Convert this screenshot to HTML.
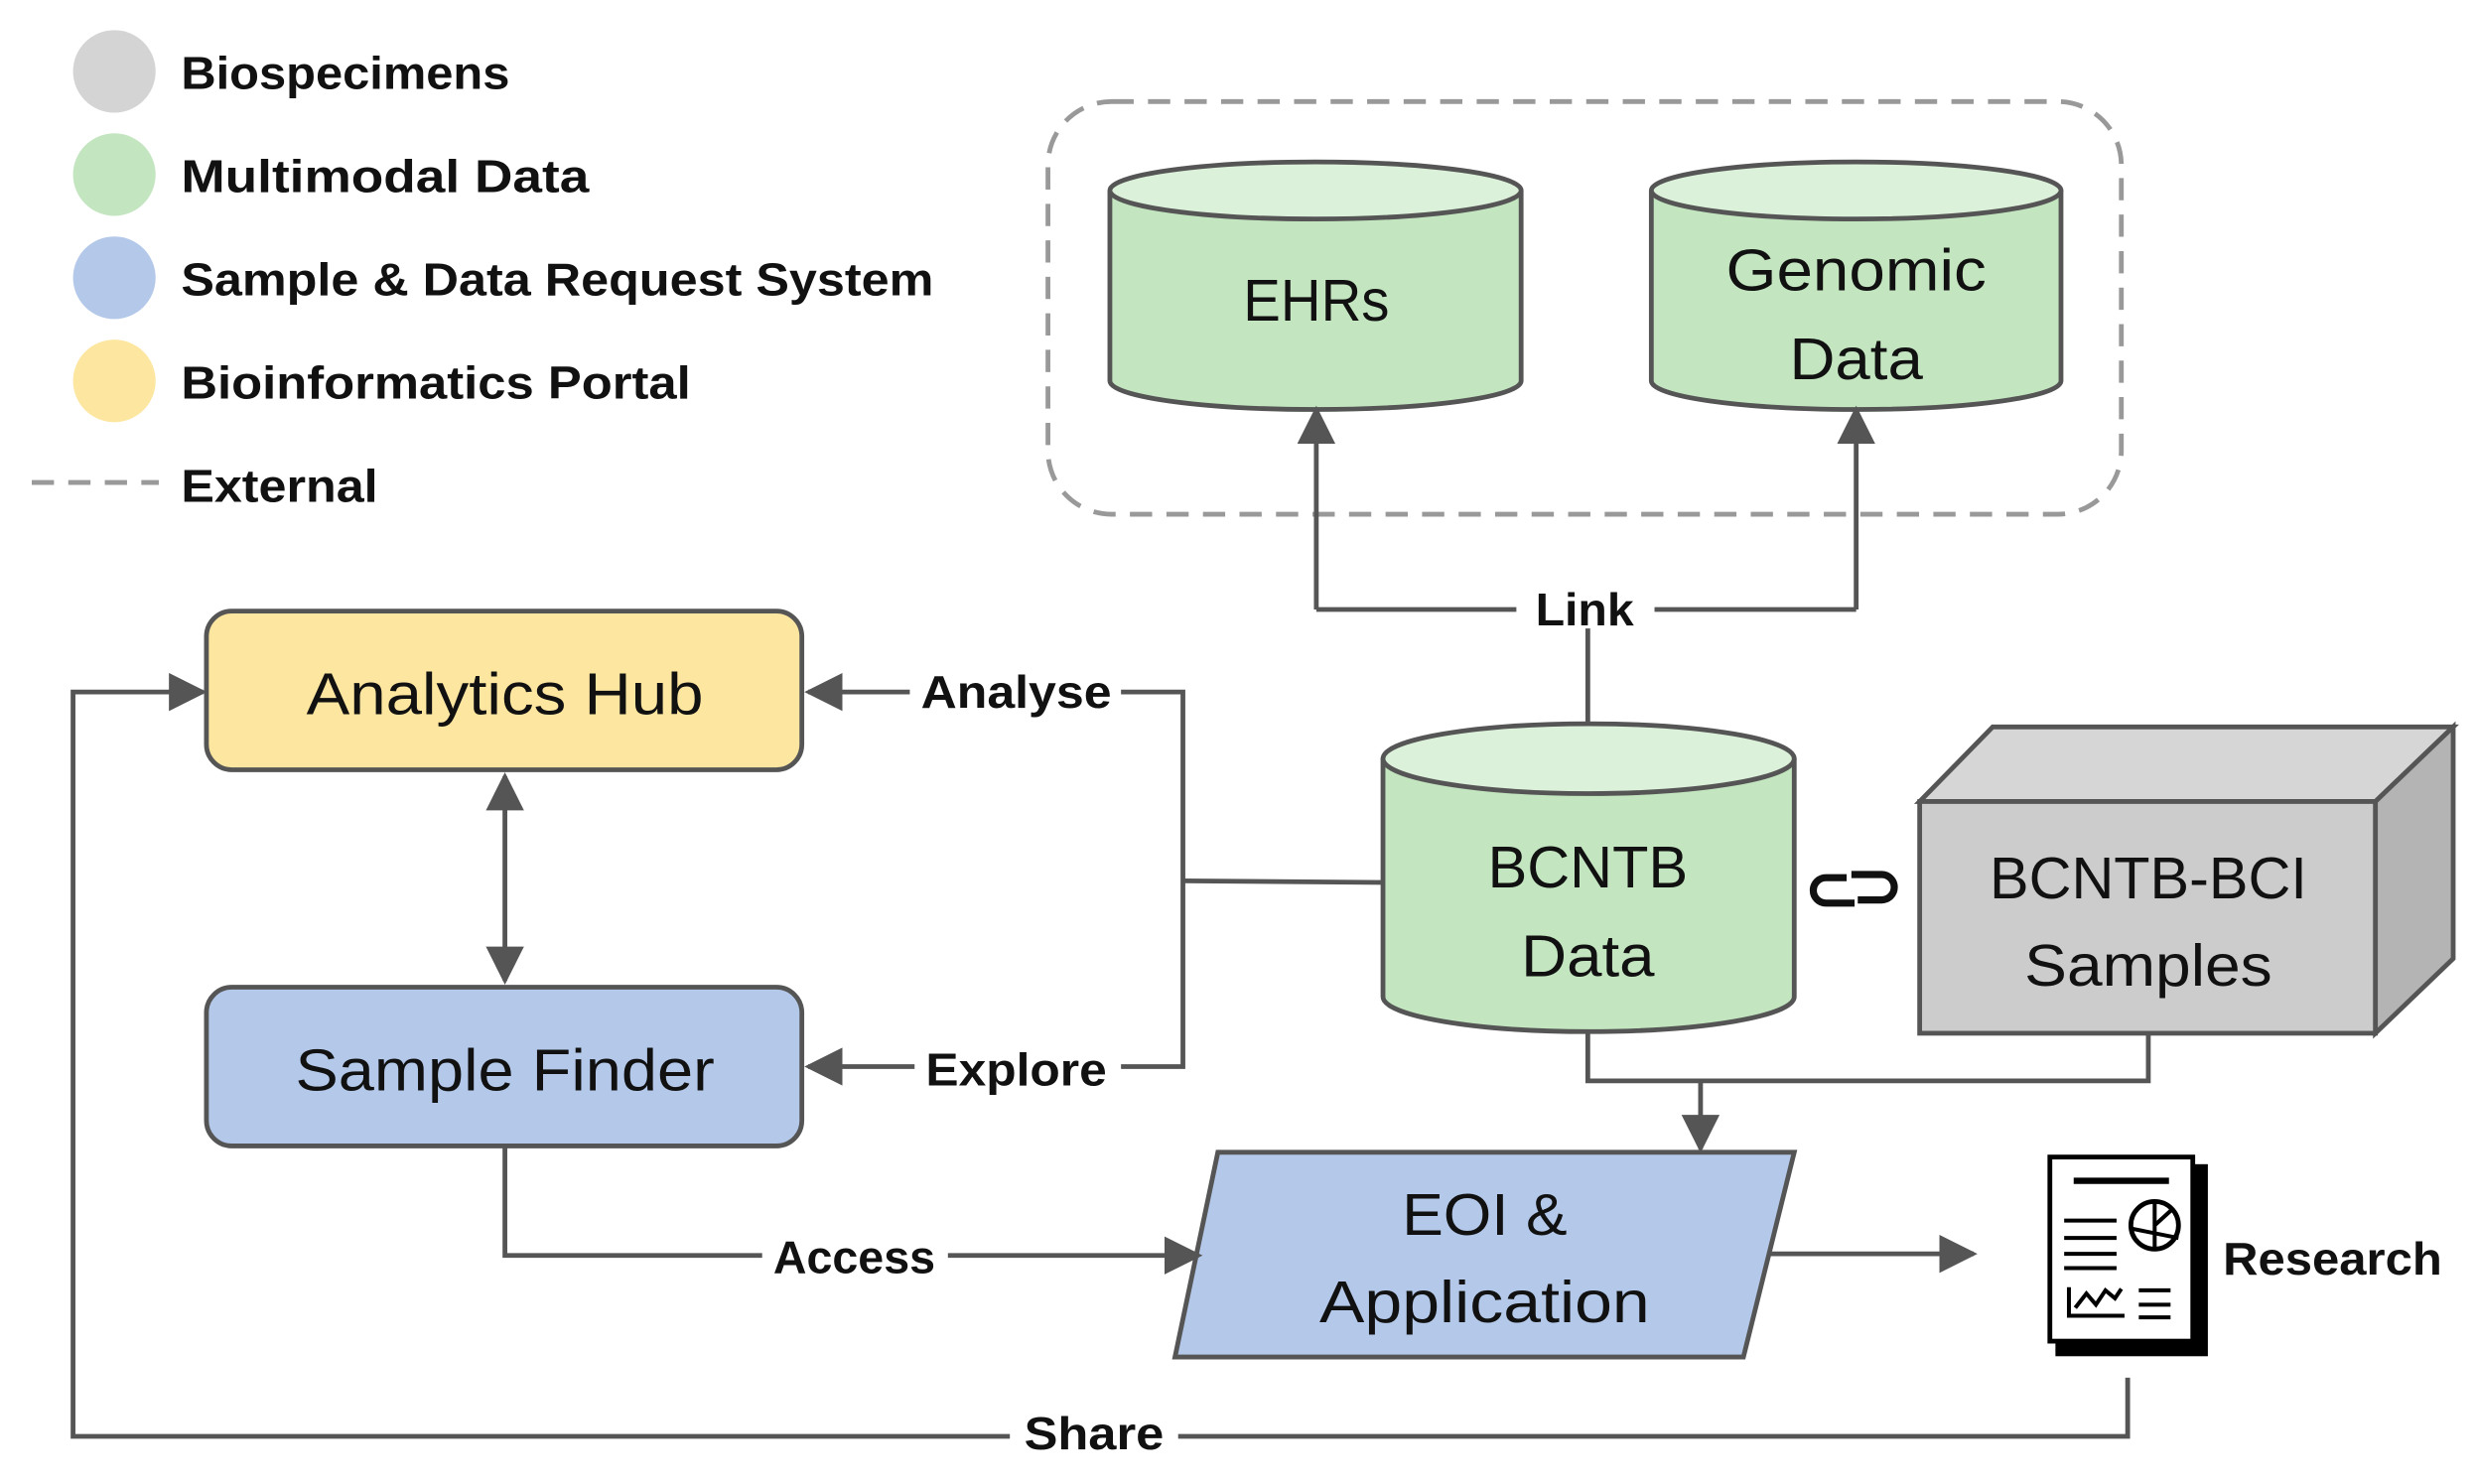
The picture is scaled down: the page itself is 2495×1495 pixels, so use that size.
<!DOCTYPE html>
<html><head><meta charset="utf-8"><style>
html,body{margin:0;padding:0;background:#fff;width:2495px;height:1495px;overflow:hidden}
svg{display:block}
text{font-family:"Liberation Sans",sans-serif;fill:#111}
.b{font-weight:bold;font-size:29px}
.n{font-size:37px;text-anchor:middle}
</style></head><body>
<svg width="2495" height="1495" viewBox="0 0 1560 935" preserveAspectRatio="none">
<defs>
<marker id="ar" viewBox="0 0 10 10" refX="9" refY="5" markerWidth="24" markerHeight="24" orient="auto-start-reverse" markerUnits="userSpaceOnUse"><path d="M0,0 L10,5 L0,10z" fill="#555"/></marker></defs>
<!-- legend -->
<circle cx="72" cy="45" r="26" fill="#d4d4d4"/>
<circle cx="72" cy="110" r="26" fill="#c3e6c0"/>
<circle cx="72" cy="175" r="26" fill="#b4c9ea"/>
<circle cx="72" cy="240" r="26" fill="#fde6a0"/>
<line x1="20" y1="304" x2="100" y2="304" stroke="#999" stroke-width="3" stroke-dasharray="14,9"/>
<text class="b" x="114" y="56" textLength="207" lengthAdjust="spacingAndGlyphs">Biospecimens</text>
<text class="b" x="114" y="121" textLength="257" lengthAdjust="spacingAndGlyphs">Multimodal Data</text>
<text class="b" x="114" y="186" textLength="474" lengthAdjust="spacingAndGlyphs">Sample &amp; Data Request System</text>
<text class="b" x="114" y="251" textLength="321" lengthAdjust="spacingAndGlyphs">Bioinformatics Portal</text>
<text class="b" x="114" y="316" textLength="124" lengthAdjust="spacingAndGlyphs">External</text>
<!-- external box -->
<rect x="660" y="64" width="676" height="260" rx="40" fill="none" stroke="#999" stroke-width="3" stroke-dasharray="14,9"/>
<g stroke="#555" stroke-width="3">
<path d="M699,120 V240 A129.5,18 0 0 0 958,240 V120" fill="#c3e6c0"/>
<ellipse cx="828.5" cy="120" rx="129.5" ry="18" fill="#dcf1da"/>
<path d="M1040,120 V240 A129,18 0 0 0 1298,240 V120" fill="#c3e6c0"/>
<ellipse cx="1169" cy="120" rx="129" ry="18" fill="#dcf1da"/>
<path d="M871,478 V628 A129.5,22 0 0 0 1130,628 V478" fill="#c3e6c0"/>
<ellipse cx="1000.5" cy="478" rx="129.5" ry="22" fill="#dcf1da"/>
<path d="M1209,505 L1255,458 L1545,458 L1496,505 Z" fill="#d6d6d6"/>
<path d="M1496,505 L1545,458 L1545,604 L1496,651 Z" fill="#b4b4b4"/>
<rect x="1209" y="505" width="287" height="146" fill="#cccccc"/>
</g>
<text class="n" x="829" y="202" textLength="92" lengthAdjust="spacingAndGlyphs">EHRs</text>
<text class="n" x="1169" y="183" textLength="164" lengthAdjust="spacingAndGlyphs">Genomic</text>
<text class="n" x="1169" y="239" textLength="84" lengthAdjust="spacingAndGlyphs">Data</text>
<text class="n" x="1000" y="559" textLength="126" lengthAdjust="spacingAndGlyphs">BCNTB</text>
<text class="n" x="1000" y="615" textLength="84" lengthAdjust="spacingAndGlyphs">Data</text>
<text class="n" x="1353" y="566" textLength="200" lengthAdjust="spacingAndGlyphs">BCNTB-BCI</text>
<text class="n" x="1353" y="621" textLength="156" lengthAdjust="spacingAndGlyphs">Samples</text>
<!-- link icon -->
<g fill="none" stroke="#111" stroke-width="4.5">
<path d="M1163,553 H1150 A8,8 0 0 0 1150,569 H1168"/>
<path d="M1170,567 H1185 A8,8 0 0 0 1185,551 H1166"/>
</g>
<rect x="130" y="385" width="375" height="100" rx="16" fill="#fde6a0" stroke="#555" stroke-width="3"/>
<text class="n" x="318" y="450" textLength="250" lengthAdjust="spacingAndGlyphs">Analytics Hub</text>
<rect x="130" y="622" width="375" height="100" rx="16" fill="#b4c9ea" stroke="#555" stroke-width="3"/>
<text class="n" x="318" y="687" textLength="264" lengthAdjust="spacingAndGlyphs">Sample Finder</text>
<path d="M767,726 L1130,726 L1098,855 L740,855 Z" fill="#b4c9ea" stroke="#555" stroke-width="3"/>
<text class="n" x="935" y="778" textLength="104" lengthAdjust="spacingAndGlyphs">EOI &amp;</text>
<text class="n" x="935" y="833" textLength="208" lengthAdjust="spacingAndGlyphs">Application</text>
<g stroke="#555" stroke-width="3" fill="none">
<path d="M829,384 V258" marker-end="url(#ar)"/>
<path d="M1169,384 V258" marker-end="url(#ar)"/>
<path d="M829,384 H955 M1042,384 H1169"/>
<path d="M1000,396 V456"/>
<path d="M318,489 V618" marker-start="url(#ar)" marker-end="url(#ar)"/>
<path d="M573,436 H509" marker-end="url(#ar)"/>
<path d="M706,436 H745 V672 H706"/>
<path d="M576,672 H509" marker-end="url(#ar)"/>
<path d="M745,555 L871,556"/>
<path d="M1000,650 V681 H1353 V651"/>
<path d="M1071,681 V724" marker-end="url(#ar)"/>
<path d="M318,722 V791 H480"/>
<path d="M597,791 H755" marker-end="url(#ar)"/>
<path d="M1115,790 H1243" marker-end="url(#ar)"/>
<path d="M1340,868 V905 H742 M636,905 H46 V436 H128" marker-end="url(#ar)"/>
</g>
<text class="b" x="998" y="394" text-anchor="middle" textLength="62" lengthAdjust="spacingAndGlyphs">Link</text>
<text class="b" x="640" y="446" text-anchor="middle" textLength="120" lengthAdjust="spacingAndGlyphs">Analyse</text>
<text class="b" x="640" y="684" text-anchor="middle" textLength="114" lengthAdjust="spacingAndGlyphs">Explore</text>
<text class="b" x="538" y="802" text-anchor="middle" textLength="102" lengthAdjust="spacingAndGlyphs">Access</text>
<text class="b" x="689" y="913" text-anchor="middle" textLength="88" lengthAdjust="spacingAndGlyphs">Share</text>
<text class="b" x="1400" y="803" textLength="138" lengthAdjust="spacingAndGlyphs">Research</text>
<g stroke="#000" fill="none" stroke-width="3">
<rect x="1296" y="735" width="93" height="118" fill="#000"/>
<rect x="1291" y="729" width="90" height="116" fill="#fff"/>
<line x1="1306" y1="744" x2="1366" y2="744" stroke-width="4"/>
<path d="M1300,769 H1333 M1300,780 H1333 M1300,790 H1333 M1300,799 H1333" stroke-width="2.5"/>
<circle cx="1357" cy="772" r="15"/>
<path d="M1357,757 V787 M1342,774 L1372,780 M1357,772 L1368,762" stroke-width="2.5"/>
<path d="M1303,811 V829 H1338 M1307,824 L1314,815 L1320,822 L1326,813 L1332,818 L1336,812" stroke-width="2.5"/>
<path d="M1347,813 H1367 M1347,822 H1367 M1347,830 H1367" stroke-width="2.5"/>
</g>
</svg>
</body></html>
